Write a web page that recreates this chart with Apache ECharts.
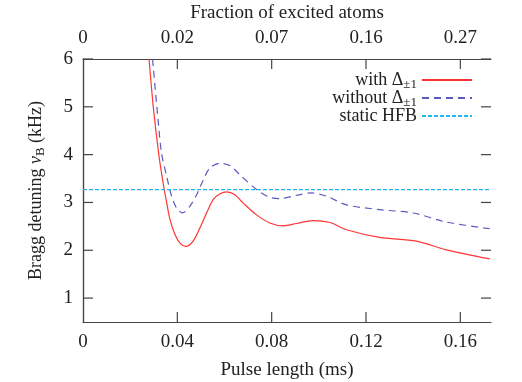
<!DOCTYPE html>
<html>
<head>
<meta charset="utf-8">
<script src="https://cdn.jsdelivr.net/npm/echarts@6/dist/echarts.min.js"></script>
<style>
  html, body { margin: 0; padding: 0; background: #fff; }
  #chart { width: 522px; height: 382px; }
</style>
</head>
<body>
<div id="chart"></div>
<script>
// pulse length (ms) and Bragg detuning (kHz)
var withX = [0.0280, 0.0298, 0.0322, 0.0340, 0.0355, 0.0369, 0.0390, 0.0411, 0.0436, 0.0467, 0.0496, 0.0524, 0.0552, 0.0581, 0.0609, 0.0644, 0.0679, 0.0736, 0.0792, 0.0849, 0.0905, 0.0976, 0.1047, 0.1117, 0.1258, 0.1413, 0.1541, 0.1725];
var withY = [6.00, 5.00, 3.98, 3.40, 2.99, 2.64, 2.33, 2.15, 2.08, 2.19, 2.47, 2.78, 3.06, 3.18, 3.22, 3.16, 2.99, 2.74, 2.57, 2.51, 2.56, 2.62, 2.58, 2.43, 2.27, 2.19, 2.01, 1.82];

var withoutX = [0.0295, 0.0319, 0.0333, 0.0355, 0.0376, 0.0397, 0.0422, 0.0453, 0.0482, 0.0510, 0.0538, 0.0581, 0.0623, 0.0665, 0.0736, 0.0792, 0.0835, 0.0905, 0.0969, 0.1033, 0.1117, 0.1258, 0.1400, 0.1541, 0.1725];
var withoutY = [6.00, 4.69, 4.03, 3.54, 3.13, 2.88, 2.78, 2.92, 3.16, 3.47, 3.72, 3.82, 3.77, 3.58, 3.27, 3.11, 3.08, 3.15, 3.20, 3.13, 2.95, 2.85, 2.78, 2.59, 2.45];

var hfbX = [0, 0.173];
var hfbY = [3.27, 3.27];

var xTicks = [0.04, 0.08, 0.12, 0.16];
var xLabelVals = [0, 0.04, 0.08, 0.12, 0.16];
var yTicks = [1, 2, 3, 4, 5, 6];
var topLabels = ['0', '0.02', '0.07', '0.16', '0.27'];

var xMin = 0, xMax = 0.173, yMin = 0.5, yMax = 6;

function pairs(xs, ys) {
    return xs.map(function(x, i) { return [x, ys[i]]; });
}

var font = 'Liberation Serif';
var axisColor = '#444';
var textColor = '#222';
var rich = {
    s: { fontFamily: font, fontSize: 13, padding: [9, 0, 0, 0], color: textColor },
    i: { fontFamily: font, fontSize: 18, fontStyle: 'italic', color: textColor },
    t: { fontFamily: font, fontSize: 18, color: textColor }
};

function mkLine() {
    return { show: true, lineStyle: { color: axisColor, width: 1.2 } };
}
function mkLabel(vals, extra) {
    var o = { show: true, fontFamily: font, fontSize: 19, color: textColor, customValues: vals };
    for (var k in extra) o[k] = extra[k];
    return o;
}
function tickRect(x, y, w, h) {
    return { type: 'rect', shape: { x: x, y: y, width: w, height: h }, style: { fill: axisColor } };
}

// inward ticks on all four sides, placed through the axes' own scales
var tickData = xTicks.map(function(v) { return [v, yMin, 0]; })
    .concat(yTicks.map(function(v) { return [xMin, v, 1]; }));

var tickSeries = {
    type: 'custom',
    silent: true,
    clip: false,
    z: 5,
    data: tickData,
    renderItem: function(params, api) {
        if (api.value(2) === 0) {
            var b = api.coord([api.value(0), yMin]);
            var t = api.coord([api.value(0), yMax]);
            return { type: 'group', children: [
                tickRect(b[0] - 0.6, b[1] - 10, 1.2, 10),
                tickRect(t[0] - 0.6, t[1], 1.2, 10)
            ] };
        }
        var l = api.coord([xMin, api.value(1)]);
        var r = api.coord([xMax, api.value(1)]);
        return { type: 'group', children: [
            tickRect(l[0], l[1] - 0.6, 10, 1.2),
            tickRect(r[0] - 10, r[1] - 0.6, 10, 1.2)
        ] };
    }
};

var chart = echarts.init(document.getElementById('chart'));
chart.setOption({
    animation: false,
    grid: { left: 83, right: 31, top: 59, bottom: 60, outerBoundsMode: 'none', containLabel: false },
    legend: {
        right: 44,
        top: 66,
        orient: 'vertical',
        align: 'right',
        itemWidth: 50,
        itemHeight: 2,
        itemGap: -2,
        itemStyle: { opacity: 0 },
        textStyle: { fontFamily: font, fontSize: 18, color: textColor, rich: rich, padding: [0, 0, 0, 0] },
        formatter: function(name) {
            if (name === 'with') return '{t|with Δ}{s|±1}';
            if (name === 'without') return '{t|without Δ}{s|±1}';
            return '{t|static HFB}';
        },
        data: ['with', 'without', 'static HFB']
    },
    xAxis: [{
        type: 'value',
        min: xMin,
        max: xMax,
        name: 'Pulse length (ms)',
        nameLocation: 'middle',
        nameGap: 39,
        nameTextStyle: { fontFamily: font, fontSize: 19, color: textColor },
        axisLine: mkLine(),
        axisTick: { show: false },
        axisLabel: mkLabel(xLabelVals, { margin: 11 }),
        splitLine: { show: false }
    }, {
        type: 'value',
        position: 'top',
        min: xMin,
        max: xMax,
        name: 'Fraction of excited atoms',
        nameLocation: 'middle',
        nameGap: 36,
        nameTextStyle: { fontFamily: font, fontSize: 19, color: textColor },
        axisLine: mkLine(),
        axisTick: { show: false },
        axisLabel: mkLabel(xLabelVals, {
            margin: 11,
            formatter: function(v) { return topLabels[Math.round(v / 0.04)] || ''; }
        }),
        splitLine: { show: false }
    }],
    yAxis: [{
        type: 'value',
        min: yMin,
        max: yMax,
        name: '{t|Bragg detuning }{i|ν}{s|B}{t| (kHz)}',
        nameLocation: 'middle',
        nameGap: 36,
        nameRotate: 90,
        nameTextStyle: { rich: rich },
        axisLine: mkLine(),
        axisTick: { show: false },
        axisLabel: mkLabel(yTicks, { margin: 10 }),
        splitLine: { show: false }
    }, {
        type: 'value',
        position: 'right',
        min: yMin,
        max: yMax,
        axisLine: mkLine(),
        axisTick: { show: false },
        axisLabel: { show: false },
        splitLine: { show: false }
    }],
    series: [{
        name: 'with',
        type: 'line',
        smooth: 0.3,
        symbol: 'none',
        clip: true,
        data: pairs(withX, withY),
        lineStyle: { color: '#ff3535', width: 1.2 },
        itemStyle: { color: '#ff3535' }
    }, {
        name: 'without',
        type: 'line',
        smooth: 0.3,
        symbol: 'none',
        clip: true,
        data: pairs(withoutX, withoutY),
        lineStyle: { color: '#5a5abf', width: 1.2, type: [7, 5] },
        itemStyle: { color: '#5a5abf' }
    }, {
        name: 'static HFB',
        type: 'line',
        symbol: 'none',
        data: pairs(hfbX, hfbY),
        lineStyle: { color: '#22b8f0', width: 1.3, type: [4, 2] },
        itemStyle: { color: '#22b8f0' }
    }, tickSeries]
});
</script>
</body>
</html>
